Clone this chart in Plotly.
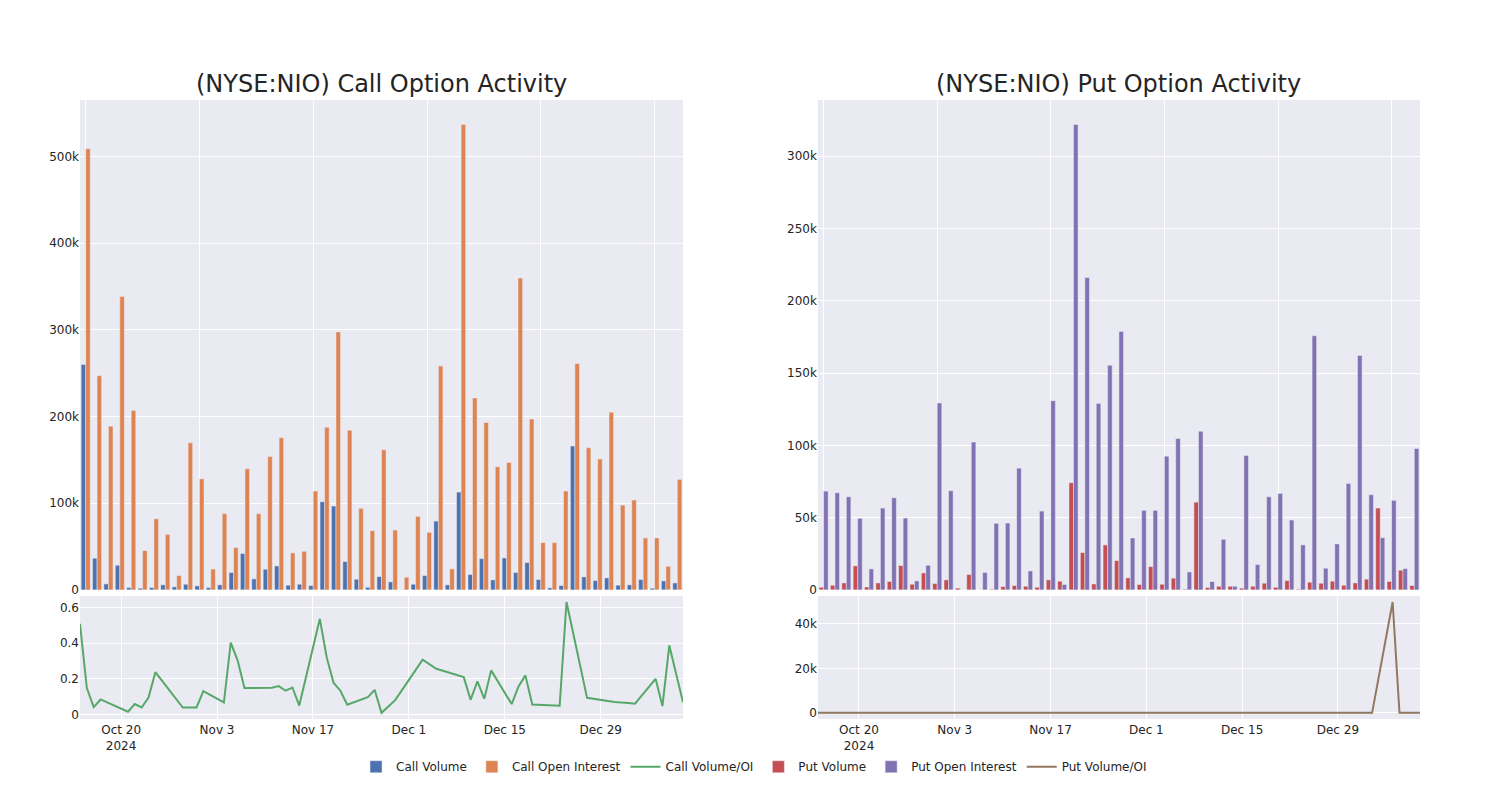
import plotly.graph_objects as go

dates = [
    "2024-10-14", "2024-10-15", "2024-10-16", "2024-10-17", "2024-10-21", "2024-10-22",
    "2024-10-23", "2024-10-24", "2024-10-25", "2024-10-29", "2024-10-31", "2024-11-01",
    "2024-11-04", "2024-11-05", "2024-11-06", "2024-11-07", "2024-11-11", "2024-11-12",
    "2024-11-13", "2024-11-14", "2024-11-15", "2024-11-18", "2024-11-19", "2024-11-20",
    "2024-11-21", "2024-11-22", "2024-11-25", "2024-11-26", "2024-11-27", "2024-11-29",
    "2024-12-02", "2024-12-03", "2024-12-05", "2024-12-09", "2024-12-10", "2024-12-11",
    "2024-12-12", "2024-12-13", "2024-12-16", "2024-12-17", "2024-12-18", "2024-12-19",
    "2024-12-23", "2024-12-24", "2024-12-27", "2024-12-30", "2024-12-31", "2025-01-02",
    "2025-01-03", "2025-01-06", "2025-01-07", "2025-01-08", "2025-01-10",
]

call_volume = [
    260000, 36500, 6900, 28400, 2700, 1900, 2700, 5800, 3500, 6500,
    4600, 2700, 5800, 20000, 42000, 12700, 23800, 27600, 5400, 6500,
    5000, 101700, 96700, 32600, 12300, 3000, 15300, 9200, 130, 6500,
    16500, 79400, 5800, 112800, 17700, 36000, 11500, 36800, 20000, 31500,
    11900, 2300, 5000, 166000, 15000, 10700, 13800, 5400, 5800, 11900,
    1900, 10400, 8000,
]

call_oi = [
    508800, 247000, 188800, 338400, 206800, 45300, 82000, 64000, 16500, 169600,
    128000, 24000, 88000, 48700, 139700, 87900, 153900, 175400, 42600, 44500,
    114000, 187600, 297400, 184000, 94000, 68300, 161500, 69000, 14600, 84800,
    66400, 258200, 24200, 536800, 221400, 193000, 142000, 147000, 359600, 197000,
    54500, 54500, 114000, 261000, 163900, 151000, 205000, 97800, 103600, 59900,
    59900, 27200, 127400,
]

call_ratio = [
    0.508, 0.148, 0.041, 0.084, 0.015, 0.058, 0.039, 0.095, 0.237, 0.039,
    0.039, 0.131, 0.067, 0.402, 0.303, 0.148, 0.150, 0.159, 0.133, 0.151,
    0.050, 0.536, 0.321, 0.178, 0.133, 0.054, 0.097, 0.138, 0.009, 0.080,
    0.250, 0.307, 0.256, 0.209, 0.082, 0.185, 0.088, 0.247, 0.058, 0.157,
    0.219, 0.056, 0.049, 0.630, 0.093, 0.073, 0.070, 0.064, 0.060, 0.200,
    0.047, 0.387, 0.069,
]

put_volume = [
    1800, 3200, 4800, 16600, 2000, 4800, 5800, 16800, 3900, 11700,
    4400, 6900, 1200, 10600, 150, 500, 2300, 3000, 2500, 1800,
    6900, 6000, 74100, 25800, 4100, 31100, 20200, 8300, 3700, 16100,
    3900, 8100, 500, 60700, 1600, 2500, 2500, 1200, 2500, 4600,
    1800, 6400, 500, 5300, 4600, 6000, 3200, 4800, 7400, 56600,
    5800, 13600, 3000,
]

put_oi = [
    68300, 67200, 64400, 49500, 14500, 56600, 63700, 49700, 6200, 17000,
    129300, 68600, 100, 102200, 12000, 46000, 46200, 84200, 13100, 54500,
    130900, 3700, 321900, 216000, 129000, 155300, 178800, 35900, 55000, 55000,
    92500, 104700, 12400, 109800, 5800, 35000, 2500, 93000, 17500, 64400,
    66700, 48300, 31100, 175800, 15000, 31800, 73600, 162200, 65800, 36100,
    61900, 14700, 97800,
]

put_ratio = [
    0.026, 0.048, 0.075, 0.335, 0.138, 0.085, 0.091, 0.338, 0.63, 0.69,
    0.034, 0.10, 0.0, 0.104, 0.0, 0.011, 0.05, 0.036, 0.19, 0.033,
    0.053, 1.62, 0.23, 0.12, 0.032, 0.20, 0.113, 0.23, 0.067, 0.29,
    0.042, 0.077, 0.04, 0.55, 0.28, 0.071, 1.0, 0.013, 0.14, 0.071,
    0.027, 0.13, 0.016, 0.03, 0.31, 0.19, 0.043, 0.03, 0.11, 49800,
    0.094, 0.93, 0.031,
]

titles = ["(NYSE:NIO) Call Option Activity", "(NYSE:NIO) Put Option Activity"]

BLUE = "rgb(76,114,176)"
ORANGE = "rgb(221,132,82)"
GREEN = "rgb(85,168,104)"
RED = "rgb(196,78,82)"
PURPLE = "rgb(129,114,179)"
BROWN = "rgb(147,120,96)"

fig = go.Figure()
fig.add_trace(go.Bar(x=dates, y=call_volume, name="Call Volume", marker_color=BLUE, xaxis="x", yaxis="y"))
fig.add_trace(go.Bar(x=dates, y=call_oi, name="Call Open Interest", marker_color=ORANGE, xaxis="x", yaxis="y"))
fig.add_trace(go.Scatter(x=dates, y=call_ratio, name="Call Volume/OI", mode="lines",
                         line=dict(color=GREEN, width=2), xaxis="x3", yaxis="y3"))
fig.add_trace(go.Bar(x=dates, y=put_volume, name="Put Volume", marker_color=RED, xaxis="x2", yaxis="y2"))
fig.add_trace(go.Bar(x=dates, y=put_oi, name="Put Open Interest", marker_color=PURPLE, xaxis="x2", yaxis="y2"))
fig.add_trace(go.Scatter(x=dates, y=put_ratio, name="Put Volume/OI", mode="lines",
                         line=dict(color=BROWN, width=2), xaxis="x4", yaxis="y4"))

left = [0.0, 0.45]
right = [0.5507, 1.0]
top = [0.2086, 1.0]
bottom = [0.0, 0.1989]

cat_axis = dict(type="category", showticklabels=False, tickmode="linear", tick0=0, dtick=10,
                gridcolor="white", linecolor="white", ticks="")
date_axis = dict(type="date", gridcolor="white", linecolor="white", ticks="")

fig.update_layout(
    template="seaborn",
    width=1484, height=784,
    margin=dict(l=72, r=72, t=92, b=72),
    font=dict(family="DejaVu Sans", size=12, color="rgb(36,36,36)"),
    barmode="group",
    xaxis=dict(domain=left, anchor="y", **cat_axis),
    yaxis=dict(domain=top, anchor="x", gridcolor="white", zerolinecolor="white"),
    xaxis2=dict(domain=right, anchor="y2", **cat_axis),
    yaxis2=dict(domain=top, anchor="x2", gridcolor="white", zerolinecolor="white"),
    xaxis3=dict(domain=left, anchor="y3", **date_axis),
    yaxis3=dict(domain=bottom, anchor="x3", gridcolor="white", zerolinecolor="white"),
    xaxis4=dict(domain=right, anchor="y4", **date_axis),
    yaxis4=dict(domain=bottom, anchor="x4", gridcolor="white", zerolinecolor="white"),
    legend=dict(orientation="h", x=0.503, xanchor="center", y=-0.052, yanchor="top",
                font=dict(size=12)),
    annotations=[
        dict(text=titles[0], x=sum(left) / 2, y=1.0, xref="paper", yref="paper",
             xanchor="center", yanchor="bottom", showarrow=False, font=dict(size=24)),
        dict(text=titles[1], x=sum(right) / 2, y=1.0, xref="paper", yref="paper",
             xanchor="center", yanchor="bottom", showarrow=False, font=dict(size=24)),
    ],
)

fig.write_html("out.html")
